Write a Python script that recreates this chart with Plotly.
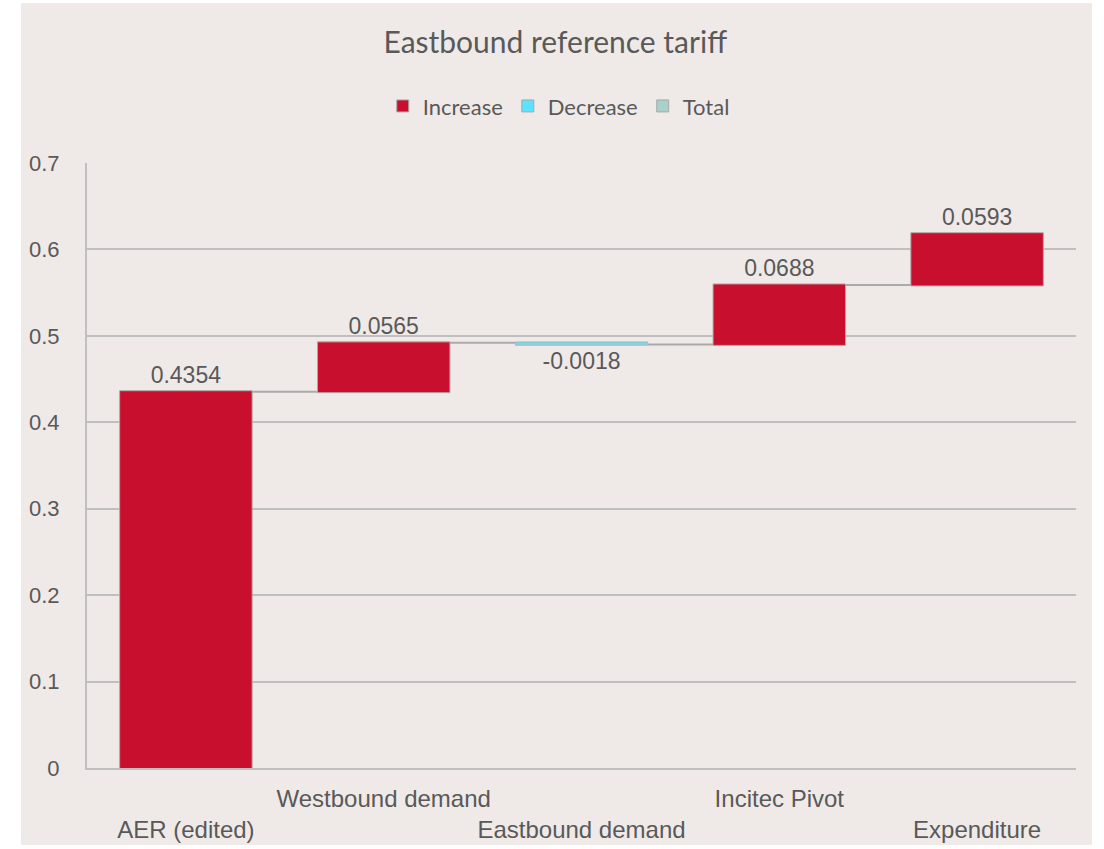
import plotly.graph_objects as go

categories = ["AER (edited)", "Westbound demand", "Eastbound demand", "Incitec Pivot", "Expenditure"]
values = [0.4354, 0.0565, -0.0018, 0.0688, 0.0593]
measures = ["relative", "relative", "relative", "relative", "relative"]
tick_labels = ["&nbsp;<br>AER (edited)", "Westbound demand", "&nbsp;<br>Eastbound demand",
               "Incitec Pivot", "&nbsp;<br>Expenditure"]
y_ticks = [0, 0.1, 0.2, 0.3, 0.4, 0.5, 0.6, 0.7]
legend_names = ["Increase", "Decrease", "Total"]
legend_colors = ["#C8102E", "#5CE1FF", "#A9D1CC"]

BG = "#EFEAE8"
TXT = "#595959"
GRID = "#BFBFBF"

fig = go.Figure()

fig.add_trace(go.Waterfall(
    x=categories,
    y=values,
    measure=measures,
    text=[f"{v:.4f}" for v in values],
    textposition="outside",
    textfont=dict(family="Liberation Sans, Arial", size=23, color=TXT),
    increasing=dict(marker=dict(color="#C8102E", line=dict(color="#B3A9A9", width=1))),
    decreasing=dict(marker=dict(color="#8FCFDA", line=dict(color="#7AB8C2", width=0.5))),
    totals=dict(marker=dict(color="#A9D1CC", line=dict(color="#B3A9A9", width=1))),
    connector=dict(line=dict(color="#AAAAAA", width=2)),
    showlegend=False,
    cliponaxis=False,
    width=0.67,
))

for name, col in zip(legend_names, legend_colors):
    fig.add_trace(go.Bar(
        x=[None], y=[None], name=name,
        marker=dict(color=col, line=dict(color="#A8A8A8", width=1)),
        xaxis="x2", yaxis="y2", showlegend=True,
    ))

fig.update_layout(
    width=1104, height=849,
    margin=dict(l=87, r=28, t=163, b=81, autoexpand=False),
    paper_bgcolor="white",
    plot_bgcolor="rgba(0,0,0,0)",
    title=dict(text="Eastbound reference tariff", x=0.503, xanchor="center",
               y=1 - 42 / 849, yanchor="middle",
               font=dict(family="Lato, Open Sans", size=30, color=TXT)),
    legend=dict(orientation="h", x=0.477, xanchor="center", y=1.094, yanchor="middle",
                font=dict(family="Lato, Open Sans", size=22, color=TXT),
                bgcolor="rgba(0,0,0,0)", itemwidth=30),
    xaxis=dict(
        tickmode="array", tickvals=categories, ticktext=tick_labels,
        tickfont=dict(family="Liberation Sans, Arial", size=24, color=TXT),
        showline=True, linecolor=GRID, linewidth=2, tickangle=0, automargin=False,
        showgrid=False, ticks="", ticklabelstandoff=8,
    ),
    yaxis=dict(
        range=[0, 0.7], tickmode="array", tickvals=y_ticks,
        ticktext=[f"{t:g}" for t in y_ticks], automargin=False,
        tickfont=dict(family="Liberation Sans, Arial", size=22, color=TXT),
        showline=True, linecolor=GRID, linewidth=2,
        showgrid=True, gridcolor=GRID, gridwidth=2,
        zeroline=False, ticks="", ticklabelstandoff=21,
    ),
    xaxis2=dict(visible=False, overlaying="x"),
    yaxis2=dict(visible=False, overlaying="y"),
    shapes=[dict(type="rect", xref="paper", yref="paper",
                 x0=(21 - 87) / 989, x1=(1092 - 87) / 989,
                 y0=(768 - 845) / 605, y1=(768 - 3) / 605,
                 fillcolor=BG, line=dict(width=0), layer="below")],
)

fig.write_html("out.html")
